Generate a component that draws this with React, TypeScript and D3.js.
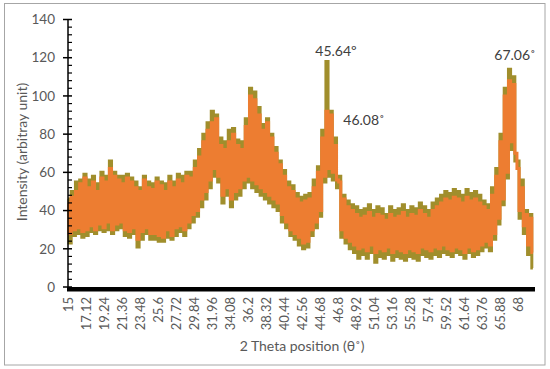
import React from 'react';
import * as d3 from 'd3';

// 2θ sampled every 0.25° from 15 to 69.75 (4 values per degree)
const twoTheta = d3.range(0, 220).map(i => 15 + i * 0.25);

// olive series (drawn underneath)
const olive = [
  46, 23, 50, 27, 55, 28, 56, 26, 59, 27, 56, 29, 58, 28, 54, 30,
  60, 29, 58, 30, 66, 28, 60, 30, 58, 31, 58, 27, 59, 26, 57, 28,
  55, 21, 52, 25, 58, 28, 55, 25, 54, 25, 57, 24, 55, 24, 54, 26,
  58, 25, 55, 27, 59, 29, 58, 27, 60, 31, 60, 34, 66, 37, 72, 42,
  80, 46, 86, 52, 92, 58, 90, 55, 78, 44, 76, 48, 82, 42, 83, 46,
  77, 48, 76, 52, 88, 55, 104, 52, 102, 50, 94, 48, 85, 46, 88, 44,
  80, 42, 73, 40, 66, 34, 61, 31, 55, 27, 53, 25, 49, 22, 47, 20,
  48, 21, 49, 27, 56, 31, 63, 37, 82, 55, 118, 58, 92, 56, 78, 52,
  58, 26, 48, 23, 45, 20, 43, 18, 42, 15, 40, 17, 41, 15, 43, 18,
  40, 13, 42, 16, 41, 15, 38, 17, 42, 14, 40, 16, 41, 15, 43, 14,
  40, 16, 42, 15, 41, 14, 44, 17, 42, 16, 40, 15, 44, 17, 46, 16,
  48, 18, 50, 17, 49, 16, 51, 18, 50, 17, 48, 15, 51, 18, 49, 16,
  50, 17, 48, 19, 45, 21, 43, 19, 52, 25, 62, 33, 80, 43, 104, 57,
  114, 72, 110, 66, 66, 36, 56, 28, 40, 17, 38, 10,
];

// orange series (drawn on top)
const orange = [
  44, 28, 47, 30, 50, 31, 54, 29, 57, 30, 52, 32, 55, 30, 50, 33,
  57, 31, 55, 34, 62, 30, 58, 33, 56, 34, 54, 30, 57, 29, 55, 31,
  52, 25, 50, 29, 56, 31, 52, 28, 51, 28, 55, 27, 53, 26, 50, 30,
  55, 27, 52, 31, 56, 32, 54, 30, 58, 34, 57, 38, 62, 40, 68, 46,
  76, 50, 82, 56, 86, 62, 88, 58, 74, 48, 72, 52, 76, 46, 80, 50,
  74, 52, 72, 56, 84, 58, 100, 56, 98, 54, 90, 52, 82, 50, 86, 48,
  78, 46, 70, 44, 64, 38, 58, 34, 52, 30, 50, 28, 46, 26, 44, 23,
  45, 24, 46, 30, 52, 34, 60, 40, 78, 58, 92, 62, 90, 60, 74, 56,
  55, 30, 46, 26, 42, 24, 40, 22, 38, 20, 36, 21, 37, 19, 39, 22,
  36, 18, 38, 20, 37, 19, 35, 21, 38, 18, 36, 20, 37, 19, 39, 18,
  36, 20, 38, 19, 37, 18, 40, 21, 38, 20, 36, 19, 40, 21, 42, 20,
  44, 22, 46, 20, 45, 19, 47, 21, 46, 20, 44, 18, 47, 21, 45, 19,
  46, 20, 44, 22, 42, 24, 40, 22, 48, 28, 58, 36, 76, 46, 100, 60,
  108, 76, 106, 70, 62, 40, 52, 32, 38, 22, 36, 18,
];

const xTickLabels = [
  '15', '17.12', '19.24', '21.36', '23.48', '25.6', '27.72', '29.84', '31.96',
  '34.08', '36.2', '38.32', '40.44', '42.56', '44.68', '46.8', '48.92', '51.04',
  '53.16', '55.28', '57.4', '59.52', '61.64', '63.76', '65.88', '68',
];
const yTicks = [0, 20, 40, 60, 80, 100, 120, 140];

const peakLabels = [
  { text: '45.64º', x: 336, y: 56 },
  { text: '46.08˚', x: 364, y: 125 },
  { text: '67.06˚', x: 515, y: 60 },
];

const font = 'Lato, "Open Sans", sans-serif';

export default function App() {
  const x = d3.scaleLinear().domain([15, 70]).range([68, 535]);
  const y = d3.scaleLinear().domain([0, 140]).range([287, 19.5]);

  const line = d3.line<number>()
    .x((_, i) => x(twoTheta[i]))
    .y(d => y(d))
    .curve(d3.curveStep);

  const minor = d3.range(0, 141, 4).filter(v => v % 20 !== 0);

  return (
    <svg width={550} height={369} style={{ position: 'absolute', left: 0, top: 0 }}>
      <rect x={0} y={0} width={550} height={369} fill="#fff" />
      <rect x={4.5} y={3.5} width={540.5} height={361.5} fill="none" stroke="#a6a6a6" strokeWidth={1} />

      <path d={line(olive) || ''} fill="none" stroke="#a08e2c" strokeWidth={3} strokeLinejoin="miter" />
      <path d={line(orange) || ''} fill="none" stroke="#ed7d31" strokeWidth={3} strokeLinejoin="miter" />

      {/* y axis */}
      <line x1={x(15)} x2={x(15)} y1={y(140)} y2={y(0)} stroke="#000" strokeWidth={1.5} />
      {yTicks.map(v => (
        <g key={v}>
          <line x1={x(15) - 5} x2={x(15) + 4} y1={y(v)} y2={y(v)} stroke="#000" strokeWidth={1.5} />
          <text x={55} y={y(v)} dy="0.35em" textAnchor="end" fontFamily={font} fontSize={13.5} fill="#595959">{v}</text>
        </g>
      ))}
      {minor.map(v => (
        <line key={v} x1={x(15)} x2={x(15) + 4} y1={y(v)} y2={y(v)} stroke="#000" strokeWidth={1.2} />
      ))}

      {/* x axis */}
      <rect x={x(15) - 1} y={y(0)} width={x(70) - x(15) + 1} height={4.5} fill="#000" />
      {xTickLabels.map(t => (
        <text key={t} transform={`translate(${x(+t)},297) rotate(-90)`} dy="0.35em" textAnchor="end"
          fontFamily={font} fontSize={13} fill="#595959">{t}</text>
      ))}

      {peakLabels.map(p => (
        <text key={p.text} x={p.x} y={p.y} textAnchor="middle" fontFamily={font} fontSize={14} fill="#404040">{p.text}</text>
      ))}

      <text transform="translate(27,152) rotate(-90)" textAnchor="middle" fontFamily={font} fontSize={14} fill="#595959">
        Intensity (arbitray unit)
      </text>
      <text x={302} y={351} textAnchor="middle" fontFamily={font} fontSize={14} fill="#595959">
        2 Theta position (θ˚)
      </text>
    </svg>
  );
}
